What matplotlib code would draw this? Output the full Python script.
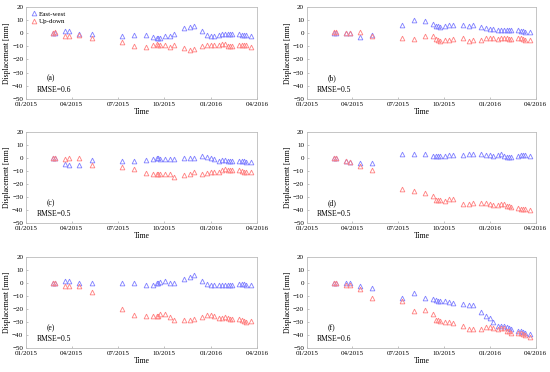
import numpy as np
import pandas as pd
import matplotlib
matplotlib.use('Agg')
import matplotlib.pyplot as plt
import matplotlib.dates as mdates

plt.rcParams['font.family'] = ['Liberation Serif', 'DejaVu Serif']

# acquisition dates, days after 2015-01-01
day_offset = [54, 57, 77, 85, 105, 130, 190, 214, 236, 251, 258, 261, 265, 275, 284, 292,
              312, 324, 332, 347, 357, 365, 371, 380, 387, 393, 399, 403, 407, 420, 426,
              430, 434, 445]
dates = pd.Timestamp('2015-01-01') + pd.to_timedelta(day_offset, unit='D')

# displacement [mm] per panel
ew_a = [0, 0, 1.5, 1.5, -1, -0.5, -2, -1.5, -1.5, -3, -3.5, -4, -3.5, -2.5, -2, -0.5,
        3.5, 4.5, 5.5, 1.5, -1.5, -2, -2, -1.5, -1, -1, -1, -1, -1, -1, -1.5, -1.5, -1.5, -2]
ud_a = [0, 0.5, -2.5, -2.5, -1.5, -4, -7, -9.5, -10.5, -9, -8.5, -9, -9, -9, -10.5, -9,
        -11, -12.5, -12, -10, -9, -9, -9, -9, -8.5, -8.5, -9.5, -10, -10, -9, -9, -9, -9, -10.5]

ew_b = [0, 0, 0, 0, -3, -1.5, 6, 10, 9.5, 7, 5, 5, 4.5, 5.5, 6, 6,
        6, 5.5, 6, 4.5, 3.5, 3, 3, 2.5, 2.5, 2.5, 2.5, 2, 2, 2, 1.5, 1.5, 1, 1]
ud_b = [0.5, 0.5, 0, 0, 0.5, -2, -3.5, -4.5, -2, -2, -4.5, -5.5, -6, -5, -5, -4.5,
        -4, -6, -5.5, -5.5, -4, -4, -3.5, -4.5, -4, -3.5, -4, -4.5, -4.5, -4, -4, -4.5, -5, -5]

ew_c = [0, 0, -4.5, -5, -5.5, -1.5, -2, -2.5, -1.5, -0.5, 0, 0, -0.5, -0.5, -0.5, -1,
        0, 0, 0.5, 1.5, 1, 0.5, -1, -2, -1.5, -1.5, -2, -2.5, -2.5, -2, -2.5, -2.5, -3, -3]
ud_c = [0, 0, -0.5, 0, 0, -5, -6.5, -8, -11.5, -12, -12, -12, -12.5, -12.5, -12.5, -14.5,
        -13, -12.5, -11, -12, -11.5, -11, -11, -10.5, -9.5, -8.5, -9.5, -9.5, -9.5, -9, -10,
        -10.5, -11, -11]

ew_d = [0, 0, -2.5, -3, -4, -4, 3.5, 3.5, 3, 2, 1.5, 1.5, 1.5, 1.5, 2.5, 2.5,
        2.5, 3, 3.5, 3, 2.5, 2.5, 2, 2.5, 3, 2, 1, 1, 1, 2, 2.5, 2.5, 2.5, 2]
ud_d = [0, 0, -2.5, -3, -6, -9, -23.5, -25, -27, -29.5, -32, -32, -32.5, -33, -31.5, -31.5,
        -35, -35.5, -34.5, -34.5, -34.5, -35, -36, -36, -35, -35, -36.5, -37, -37.5, -38.5,
        -39, -39, -39.5, -40]

ew_e = [0, 0, 1.5, 1.5, 0, 0.5, 0.5, 0.5, -1.5, -1, 0, 0, 1, 1.5, 0, 0,
        3.5, 5, 6, 2, -0.5, -1, -1, -1, -1, -1, -1.5, -1.5, -1, -0.5, -0.5, -0.5, -1, -1]
ud_e = [0, 0, -2, -2.5, -2.5, -7, -20, -24.5, -25, -25.5, -25.5, -25, -24, -23.5, -26, -28.5,
        -28.5, -28.5, -27.5, -26, -24.5, -24.5, -25.5, -26.5, -26.5, -26, -27, -27.5, -27.5,
        -27.5, -28.5, -29, -29.5, -29]

ew_f = [0, 0, 0.5, 0, -2.5, -3.5, -11, -7.5, -11.5, -12.5, -13, -13.5, -13.5, -14, -14.5, -15,
        -16, -17, -17, -22, -25, -27, -30, -32.5, -33, -33, -34, -34.5, -35.5, -36.5, -37,
        -37.5, -38, -39]
ud_f = [0, 0, -1, -1, -4.5, -11, -14, -21, -20.5, -24, -28, -28.5, -29, -29.5, -30, -30.5,
        -33, -35.5, -35, -35.5, -34, -33.5, -34.5, -35, -34.5, -34.5, -36.5, -37, -38, -38,
        -38.5, -39, -39.5, -41]

panels = [('(a)', 'RMSE=0.6', ew_a, ud_a), ('(b)', 'RMSE=0.5', ew_b, ud_b),
          ('(c)', 'RMSE=0.5', ew_c, ud_c), ('(d)', 'RMSE=0.5', ew_d, ud_d),
          ('(e)', 'RMSE=0.5', ew_e, ud_e), ('(f)', 'RMSE=0.6', ew_f, ud_f)]

fig = plt.figure(figsize=(5.5, 3.72), dpi=100)
lefts = [0.0473, 0.558]
widths = [0.42, 0.416]
bottoms = [0.734, 0.4005, 0.0637]
heights = [0.248, 0.244, 0.245]

blue = '#7f7fff'
red = '#ff7f7f'
for i, (tag, rmse, ew, ud) in enumerate(panels):
    r, c = divmod(i, 2)
    ax = fig.add_axes([lefts[c], bottoms[r], widths[c], heights[r]])
    ax.plot(dates, ew, ls='none', marker='^', ms=3.4, mfc='none', mec=blue, mew=0.6,
            label='East-west')
    ax.plot(dates, ud, ls='none', marker='^', ms=3.4, mfc='none', mec=red, mew=0.6,
            label='Up-down')
    ax.set_xlim(pd.Timestamp('2015-01-01'), pd.Timestamp('2016-04-01'))
    ax.set_ylim(-50, 20)
    ax.set_yticks(np.arange(-50, 21, 10))
    ax.xaxis.set_major_locator(mdates.MonthLocator(bymonth=[1, 4, 7, 10]))
    ax.xaxis.set_major_formatter(mdates.DateFormatter('%m/%Y'))
    ax.tick_params(direction='in', length=1.5, width=0.5, color='#aaaaaa',
                   labelsize=5, pad=2)
    for s in ax.spines.values():
        s.set_color('#bbbbbb')
        s.set_linewidth(0.6)
    ax.set_xlabel('Time', fontsize=5.5, labelpad=1)
    ax.set_ylabel('Displacement [mm]', fontsize=5.5, labelpad=1)
    ax.text(0.09, 0.2, tag, transform=ax.transAxes, fontsize=5.5)
    ax.text(0.045, 0.08, rmse, transform=ax.transAxes, fontsize=5.5)
    if i == 0:
        ax.legend(loc='upper left', fontsize=5, frameon=False, handletextpad=0.2,
                  borderaxespad=0.2, labelspacing=0.2, handlelength=1.0,
                  bbox_to_anchor=(0.0, 1.0))

fig.savefig('out.png', dpi=100)
